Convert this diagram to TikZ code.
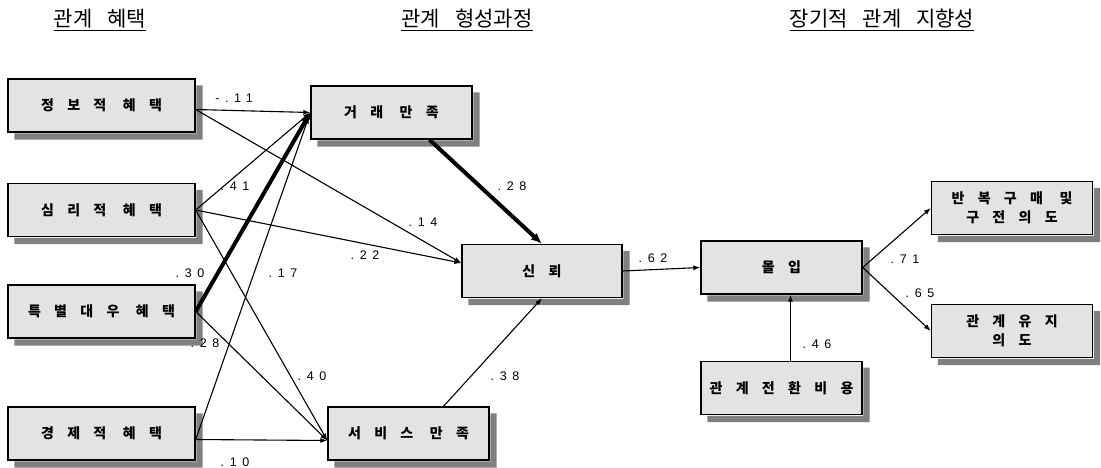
\documentclass[tikz,border=0pt]{standalone}
\usepackage{fontspec}
\newfontfamily\krfont{Noto Sans CJK KR}
\newfontfamily\krbox[LetterSpace=95]{Noto Sans CJK KR}
\newfontfamily\numfont[LetterSpace=45]{Liberation Sans}
\usetikzlibrary{
  arrows.meta,
  positioning
}
\tikzset{
  benbox/.style={draw, line width=1.4pt, fill=gray!22,
    minimum width=187pt, minimum height=53pt, align=center,
    font={\krbox\bfseries\fontsize{14}{19}\selectfont}},
  procbox/.style={benbox, minimum width=161pt},
  heading/.style={inner sep=0pt, anchor=base,
    font={\krfont\fontsize{21}{24}\selectfont\spaceskip=15pt\relax}},
  coef/.style={inner sep=0pt, font={\numfont\fontsize{12.5}{14}\selectfont}},
  arr/.style={-{Latex[length=7pt,width=5pt]}, line width=1.1pt},
  tarr/.style={-{Latex[length=11pt,width=9pt]}, line width=4pt},
  boxshadow/.style={fill=black!50},
}

\begin{document}
\begin{tikzpicture}[x=1pt, y=-1pt]
  \useasboundingbox (0,0) rectangle (1101,467);

  % headings
  \node[heading] (hben) at (100,26) {관계 혜택};
  \node[heading] (hproc) at (467,26) {관계 형성과정};
  \node[heading] (horient) at (882,26) {장기적 관계 지향성};
  \foreach \h in {hben, hproc, horient} {
    \draw[line width=1pt] ([yshift=-4pt]\h.base west) -- ([yshift=-4pt]\h.base east);
  }

  % relational benefits
  \node[benbox] (info) at (101.5,105.5) {정보적 혜택};
  \node[benbox] (psy) at (101.5,210) {심리적 혜택};
  \node[benbox] (spec) at (101.5,311.5) {특별대우 혜택};
  \node[benbox] (econ) at (101.5,433.5) {경제적 혜택};

  % formation process
  \node[procbox] (deal) at (391.5,112.5) {거래 만족};
  \node[procbox, minimum width=160pt] (trust) at (542,271) {신뢰};
  \node[procbox] (serv) at (408.5,433.5) {서비스 만족};

  % long-term orientation
  \node[procbox] (commit) at (781.5,267.5) {몰입};
  \node[procbox, below=66pt of commit] (cost) {관계전환비용};
  \node[procbox] (repeat) at (1012,208) {반복구매 및\\구전의도};
  \node[procbox] (keep) at (1012,331) {관계유지\\의도};

  % shadows on the right and bottom side
  \foreach \bx in {info, psy, spec, econ, deal, trust, serv, commit, cost, repeat, keep} {
    \fill[boxshadow] ([xshift=0.7pt, yshift=-7pt]\bx.north east)
      -- ([xshift=7pt, yshift=-7pt]\bx.north east)
      -- ([xshift=7pt, yshift=-7pt]\bx.south east)
      -- ([xshift=7pt, yshift=-7pt]\bx.south west)
      -- ([xshift=7pt, yshift=-0.7pt]\bx.south west)
      -- ([xshift=0.7pt, yshift=-0.7pt]\bx.south east) -- cycle;
  }

  \coordinate (info-o) at ([yshift=-4pt]info.east);
  \coordinate (econ-o) at ([yshift=-6pt]econ.east);
  \coordinate (serv-i) at ([yshift=-7pt]serv.west);
  \coordinate (trust-i) at ([yshift=8pt]trust.west);

  \foreach \a/\b in {info-o/deal.west, info-o/trust-i, psy.east/deal.west,
                     psy.east/trust-i, psy.east/serv-i, spec.east/serv-i,
                     econ-o/deal.west, econ-o/serv-i, trust.east/commit.west,
                     commit.east/repeat.west, commit.east/keep.west} {
    \draw[arr] (\a) -- (\b);
  }
  \draw[tarr] (spec.east) -- (deal.west);
  \draw[tarr] ([xshift=38pt]deal.south) -- (trust.north);
  \draw[arr] ([xshift=35pt]serv.north) -- (trust.south);
  \draw[arr] ([xshift=9pt]cost.north) -- ([xshift=9pt]commit.south);

  % path coefficients
  \foreach \n/\x/\y/\t in {1/234/98/-.11, 2/423/222/.14, 3/235/186/.41,
                           4/365/255/.22, 5/312/376/.40, 6/190/273/.30,
                           7/205/343/.28, 8/283/273/.17, 9/235/462/.10,
                           10/512/186/.28, 11/505/376/.38, 12/653/258/.62,
                           13/817/344/.46, 14/905/259/.71, 15/920/293/.65} {
    \node[coef] (c\n) at (\x,\y) {\t};
  }
\end{tikzpicture}
\end{document}
